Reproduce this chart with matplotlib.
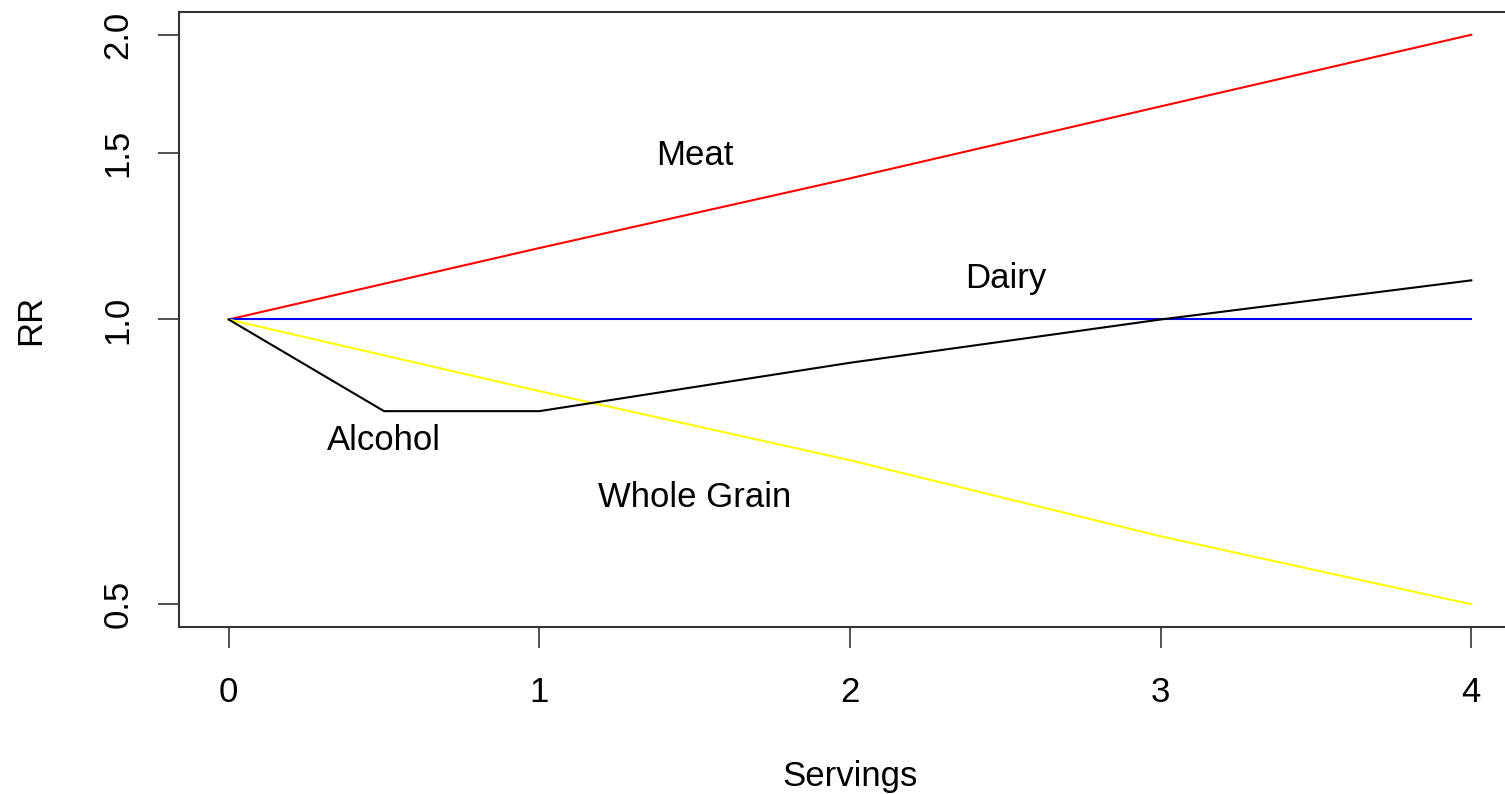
import numpy as np
import matplotlib.pyplot as plt

plt.rcParams["font.family"] = ["Liberation Sans", "DejaVu Sans"]

servings = [0, 1, 2, 3, 4]
meat_rr = [1.0, 1.19, 1.41, 1.68, 2.0]
grain_rr = [1.0, 0.84, 0.71, 0.59, 0.5]
flat_rr = [1.0, 1.0, 1.0, 1.0, 1.0]
alcohol_x = [0, 0.5, 1, 2, 3, 4]
alcohol_rr = [1.0, 0.8, 0.8, 0.9, 1.0, 1.1]

labels = ["Meat", "Dairy", "Alcohol", "Whole Grain"]
label_x = [1.5, 2.5, 0.5, 1.5]
label_y = [1.49, 1.105, 0.745, 0.648]

W, H = 1505, 794
fig = plt.figure(figsize=(W / 100, H / 100), dpi=100)
ax = fig.add_axes([179 / W, (H - 627) / H, (1521 - 179) / W, (627 - 12) / H])

lw = 1.5
ax.plot(servings, meat_rr, color="#FF0000", lw=lw)
ax.plot(servings, flat_rr, color="#0000FF", lw=lw)
ax.plot(servings, grain_rr, color="#FFFF00", lw=lw)
ax.plot(alcohol_x, alcohol_rr, color="black", lw=lw)

fs = 25
for t, x, y in zip(labels, label_x, label_y):
    ax.text(x, y, t, ha="center", va="center", fontsize=fs)

ax.set_yscale("log")
pad = 0.04 * np.log(2.0 / 0.5)
ax.set_ylim(0.5 * np.exp(-pad), 2.0 * np.exp(pad))
ax.set_xlim(-0.16, 4.16)

ax.set_yticks([0.5, 1.0, 1.5, 2.0])
ax.set_yticklabels(["0.5", "1.0", "1.5", "2.0"], rotation=90, va="center")
ax.yaxis.set_minor_locator(plt.NullLocator())
ax.set_xticks(servings)
ax.set_xticklabels([str(s) for s in servings])

ax.tick_params(axis="both", labelsize=fs, length=15, width=1.2, color="#333333")
ax.tick_params(axis="x", pad=20)
ax.tick_params(axis="y", pad=17)
for s in ax.spines.values():
    s.set_linewidth(1.5)
    s.set_color("#333333")

ax.set_xlabel("Servings", fontsize=fs, labelpad=37)
ax.set_ylabel("RR", fontsize=fs, labelpad=39)

fig.savefig("out.png", dpi=100)
